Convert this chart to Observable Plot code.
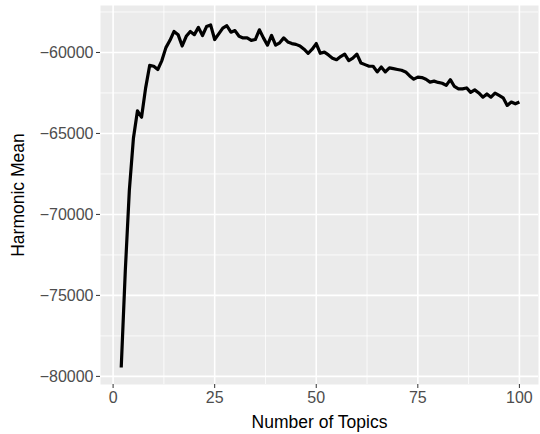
<!DOCTYPE html>
<html><head><meta charset="utf-8">
<script src="https://cdn.jsdelivr.net/npm/d3@7"></script>
<script src="https://cdn.jsdelivr.net/npm/@observablehq/plot@0.6"></script>
<style>
body{margin:0;background:#fff;}
#chart svg{font-family:"Liberation Sans",Arial,sans-serif;}
</style>
</head><body><div id="chart"></div>
<script>
const topics = [2,3,4,5,6,7,8,9,10,11,12,13,14,15,16,17,18,19,20,21,22,23,24,25,26,27,28,29,30,31,32,33,34,35,36,37,38,39,40,41,42,43,44,45,46,47,48,49,50,51,52,53,54,55,56,57,58,59,60,61,62,63,64,65,66,67,68,69,70,71,72,73,74,75,76,77,78,79,80,81,82,83,84,85,86,87,88,89,90,91,92,93,94,95,96,97,98,99,100];
const harmonicMean = [
  -79450,-73500,-68500,-65300,-63600,-64000,-62200,-60800,-60850,          // 2-10
  -61050,-60500,-59700,-59250,-58700,-58900,-59600,-59000,-58700,-58900,   // 11-20
  -58450,-58950,-58400,-58300,-59200,-58850,-58500,-58350,-58750,-58650,   // 21-30
  -59000,-59100,-59100,-59250,-59200,-58600,-59100,-59550,-58950,-59550,   // 31-40
  -59400,-59100,-59350,-59450,-59500,-59600,-59800,-60050,-59800,-59450,   // 41-50
  -60050,-59980,-60150,-60350,-60450,-60250,-60100,-60500,-60350,-60100,   // 51-60
  -60650,-60750,-60850,-60850,-61200,-60900,-61200,-60950,-61000,-61050,   // 61-70
  -61100,-61200,-61450,-61650,-61520,-61550,-61650,-61830,-61770,-61850,   // 71-80
  -61900,-62030,-61680,-62100,-62250,-62250,-62190,-62460,-62310,-62500,   // 81-90
  -62760,-62560,-62760,-62510,-62650,-62800,-63270,-63060,-63170,-63060    // 91-100
];
const xMajor = [0,25,50,75,100];
const xMinor = [12.5,37.5,62.5,87.5];
const yMajor = [-80000,-75000,-70000,-65000,-60000];
const yMinor = [-77500,-72500,-67500,-62500,-57500];
const xTitle = "Number of Topics";
const yTitle = "Harmonic Mean";

const data = topics.map((t,i)=>({topics:t, hm:harmonicMean[i]}));
const fmt = d3.format("d");

const chart = Plot.plot({
  width:540, height:434,
  marginLeft:100, marginRight:2, marginTop:5, marginBottom:50,
  style:{fontFamily:'"Liberation Sans",Arial,sans-serif', background:"white"},
  x:{domain:[-3.1,104.7]},
  y:{domain:[-80500,-57100]},
  marks:[
    Plot.frame({fill:"#EBEBEB", stroke:null}),
    Plot.ruleX(xMinor,{stroke:"white", strokeWidth:0.8}),
    Plot.ruleY(yMinor,{stroke:"white", strokeWidth:0.8}),
    Plot.ruleX(xMajor,{stroke:"white", strokeWidth:1.6}),
    Plot.ruleY(yMajor,{stroke:"white", strokeWidth:1.6}),
    Plot.line(data,{x:"topics", y:"hm", stroke:"black", strokeWidth:3.2, strokeLinejoin:"round", strokeLinecap:"butt"}),
    Plot.axisX({ticks:xMajor, tickSize:4, tickPadding:3, fontSize:16, stroke:"#333333", fill:"#4D4D4D", label:null, tickFormat:fmt}),
    Plot.axisY({ticks:yMajor, tickSize:4, tickPadding:3, fontSize:16, stroke:"#333333", fill:"#4D4D4D", label:null, tickFormat:fmt}),
    Plot.text([xTitle],{frameAnchor:"bottom", lineAnchor:"middle", dy:38, fontSize:17.5, fill:"black"}),
    Plot.text([yTitle],{frameAnchor:"left", textAnchor:"middle", lineAnchor:"middle", dx:-82, rotate:-90, fontSize:17.5, fill:"black"})
  ]
});
document.getElementById("chart").appendChild(chart);
</script>
</body></html>
